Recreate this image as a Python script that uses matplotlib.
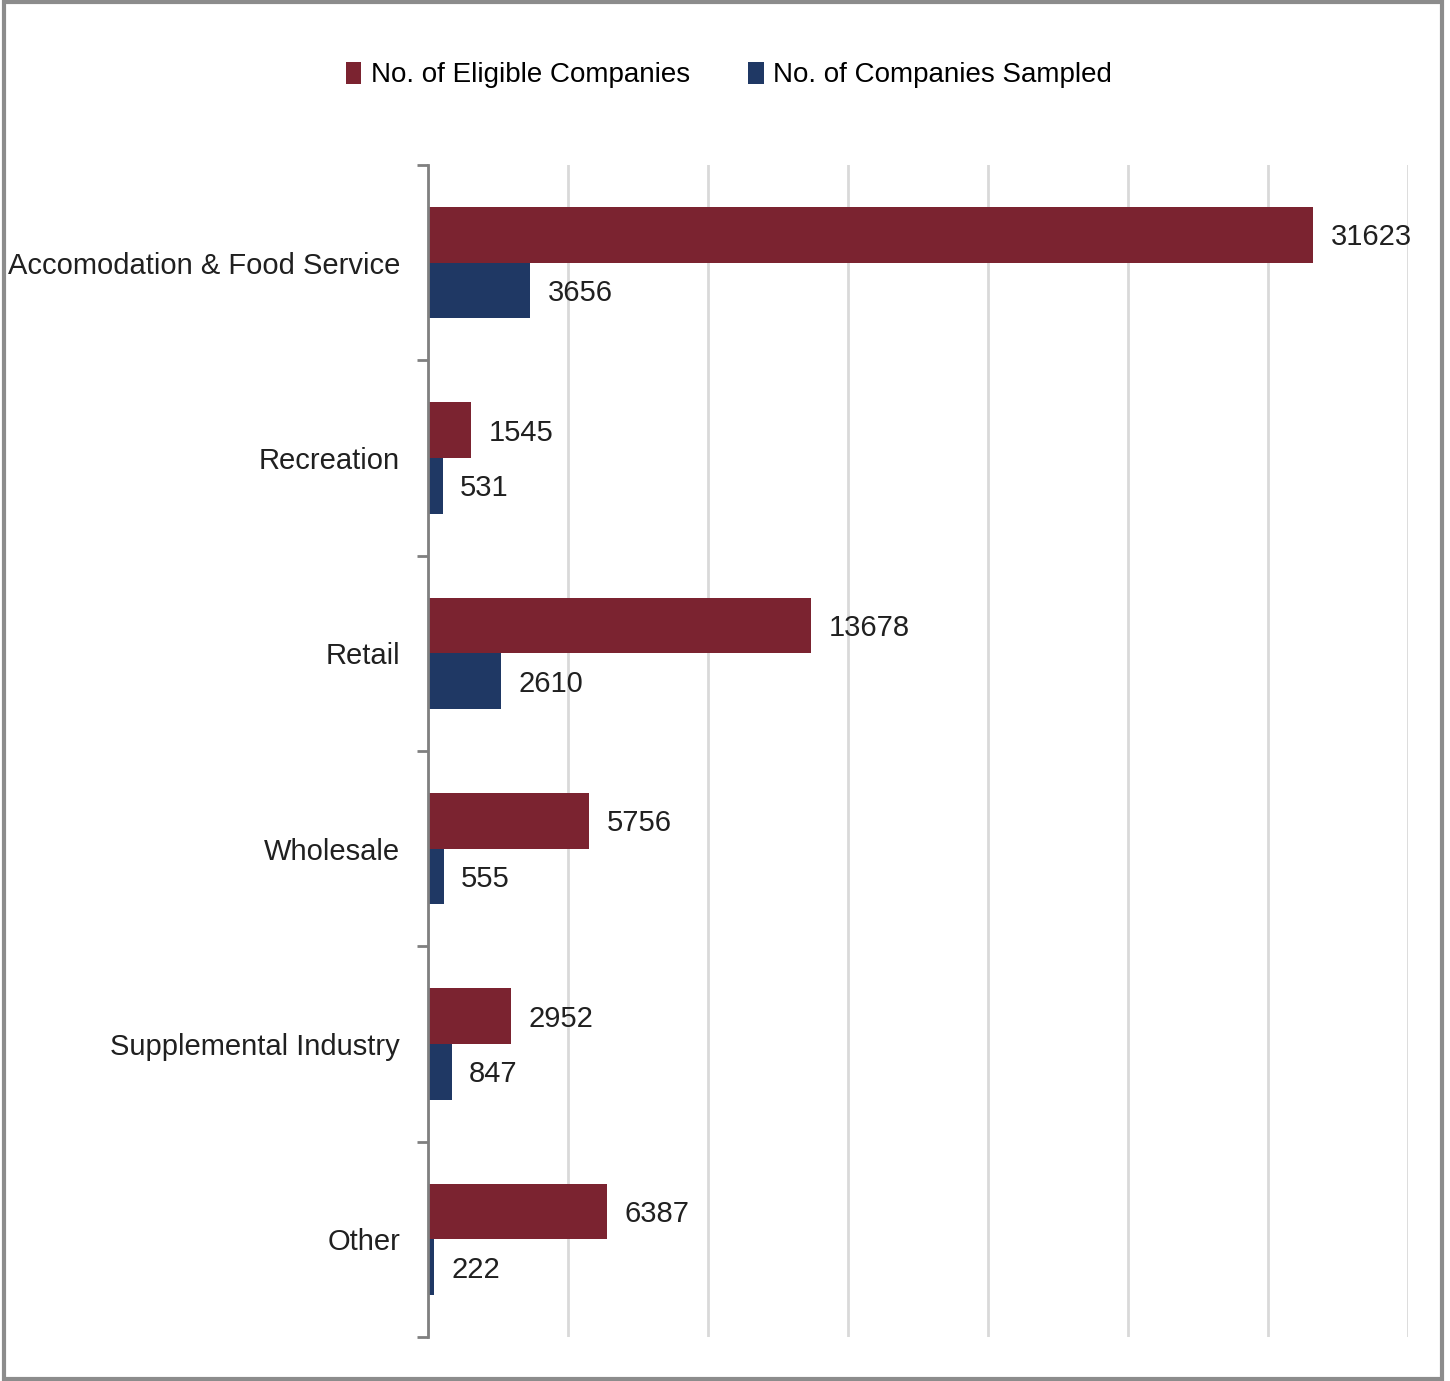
import matplotlib
matplotlib.use('Agg')
import matplotlib.pyplot as plt
import numpy as np
from matplotlib.patches import Rectangle

categories = ['Accomodation & Food Service', 'Recreation', 'Retail', 'Wholesale',
              'Supplemental Industry', 'Other']
eligible = [31623, 1545, 13678, 5756, 2952, 6387]
sampled = [3656, 531, 2610, 555, 847, 222]
series_names = ['No. of Eligible Companies', 'No. of Companies Sampled']

RED = '#7b2330'
BLUE = '#1f3864'
plt.rcParams['font.family'] = ['Liberation Sans Narrow', 'Liberation Sans', 'DejaVu Sans']

fig = plt.figure(figsize=(14.5, 13.81), dpi=100)
ax = fig.add_axes([428 / 1450, 1 - 1337 / 1381, 980 / 1450, 1172 / 1381])

y = np.arange(len(categories))
h = 0.285
b1 = ax.barh(y - h / 2, eligible, h, color=RED, label=series_names[0])
b2 = ax.barh(y + h / 2, sampled, h, color=BLUE, label=series_names[1])
for bars, vals in [(b1, eligible), (b2, sampled)]:
    for bar, v in zip(bars, vals):
        ax.text(bar.get_width() + 620, bar.get_y() + bar.get_height() / 2 + 0.012, f'{v}',
                va='center', ha='left', fontsize=21, color='#202020')

ax.set_ylim(len(categories) - 0.5, -0.5)
ax.set_xlim(0, 35000)
ax.set_xticks(np.arange(0, 35001, 5000))
ax.set_xticklabels([])
ax.tick_params(axis='x', length=0)
ax.grid(axis='x', color='#d9d9d9', lw=2)
ax.set_axisbelow(True)
ax.set_yticks(y)
ax.set_yticklabels(categories, fontsize=21, color='#202020')
ax.tick_params(axis='y', which='major', length=0, pad=20)
ax.set_yticks(np.arange(-0.5, len(categories), 1), minor=True)
ax.tick_params(axis='y', which='minor', length=8, width=2, color='#808080')
for s in ['top', 'right', 'bottom']:
    ax.spines[s].set_visible(False)
ax.spines['left'].set_color('#808080')
ax.spines['left'].set_linewidth(2)

fig.legend(handles=[b1, b2], loc='center', bbox_to_anchor=(729 / 1450, 1 - 75 / 1381),
           ncol=2, frameon=False, fontsize=20, handlelength=0.55, handleheight=0.85,
           handletextpad=0.35, columnspacing=2.1)

fig.patches.append(Rectangle((4 / 1450, 2 / 1381), 1438 / 1450, 1377 / 1381,
                             transform=fig.transFigure, fill=False,
                             edgecolor='#8c8c8c', lw=3))

fig.savefig('out.png', dpi=100)
